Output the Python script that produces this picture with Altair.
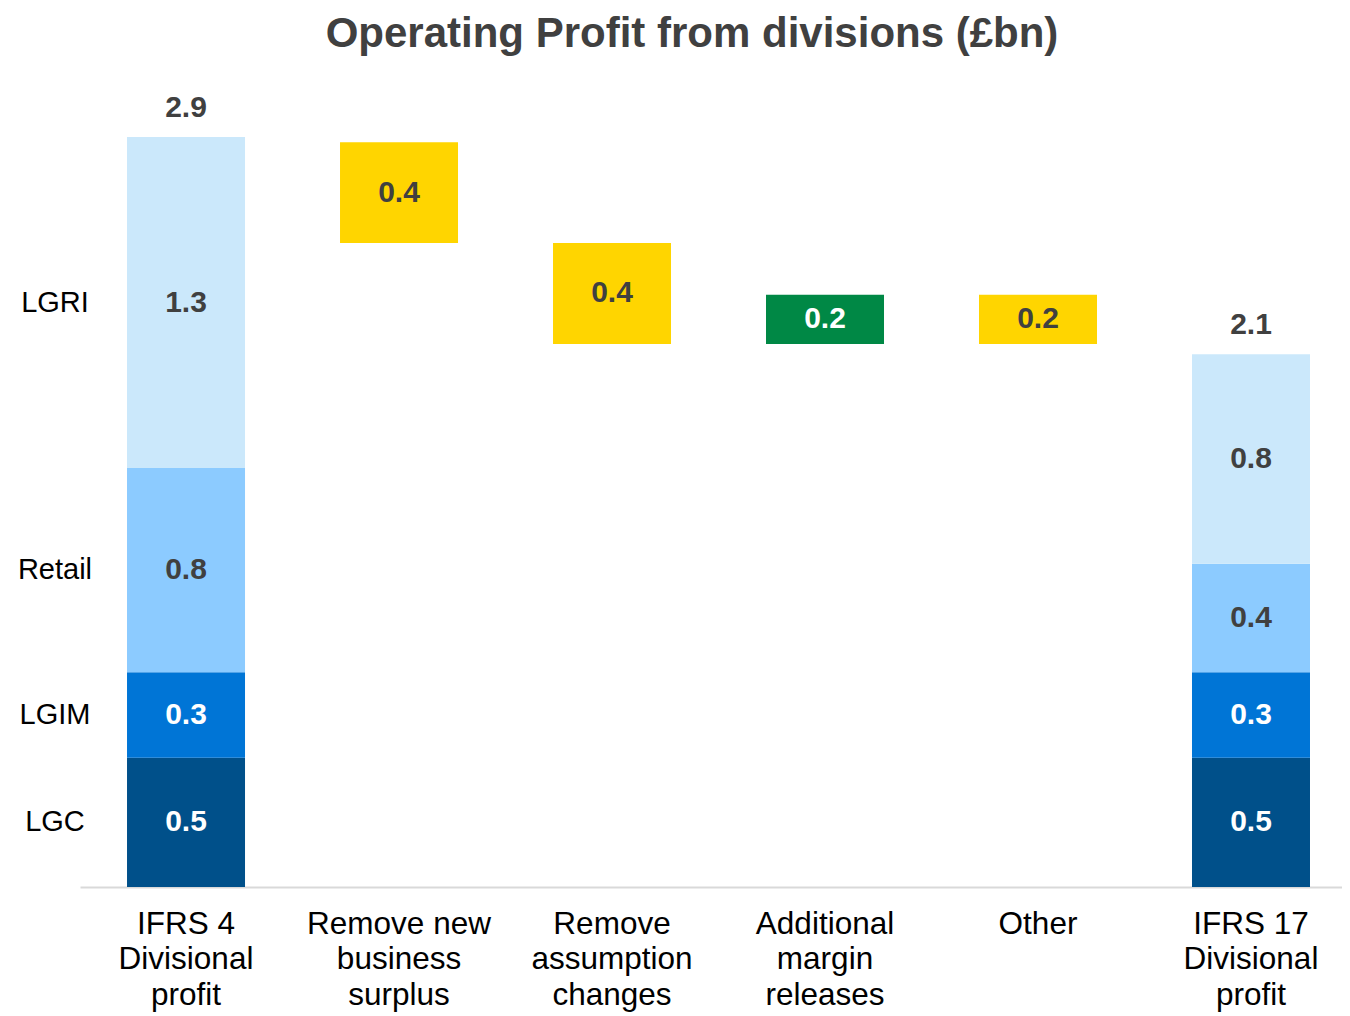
import altair as alt
import pandas as pd

categories = ["IFRS 4|Divisional|profit", "Remove new|business|surplus", "Remove|assumption|changes",
              "Additional|margin|releases", "Other", "IFRS 17|Divisional|profit"]
divisions = ["LGC", "LGIM", "Retail", "LGRI"]
div_colors = ["#00508a", "#0075d6", "#8ccbff", "#cbe8fb"]
div_text_colors = ["#ffffff", "#ffffff", "#404040", "#404040"]
ifrs4_values = [0.50, 0.33, 0.79, 1.28]
ifrs17_values = [0.50, 0.33, 0.42, 0.81]
step_start = [2.88, 2.49, 2.10, 2.29]
step_end = [2.49, 2.10, 2.29, 2.10]
step_labels = ["0.4", "0.4", "0.2", "0.2"]
step_colors = ["#ffd500", "#ffd500", "#008845", "#ffd500"]
step_text_colors = ["#404040", "#404040", "#ffffff", "#404040"]

rows = []
for cat, vals in [(categories[0], ifrs4_values), (categories[5], ifrs17_values)]:
    base = 0.0
    for d, v, c, tc in zip(divisions, vals, div_colors, div_text_colors):
        rows.append(dict(cat=cat, lo=base, hi=base + v, color=c, tcolor=tc,
                         label=f"{v:.1f}", mid=base + v / 2, div=d))
        base += v
for i in range(4):
    lo, hi = min(step_start[i], step_end[i]), max(step_start[i], step_end[i])
    rows.append(dict(cat=categories[i + 1], lo=lo, hi=hi, color=step_colors[i],
                     tcolor=step_text_colors[i], label=step_labels[i], mid=(lo + hi) / 2, div=""))
df = pd.DataFrame(rows)

totals = pd.DataFrame({
    "cat": [categories[0], categories[5]],
    "top": [sum(ifrs4_values), sum(ifrs17_values)],
})
totals["label"] = totals["top"].map(lambda v: f"{v:.1f}")

left = df[(df["cat"] == categories[0])][["div", "mid"]]

FONT = "Liberation Sans"
H = 807
ymax = H / (750 / 2.9)

x = alt.X("cat:N", sort=categories, title=None,
          scale=alt.Scale(paddingInner=0.446, paddingOuter=0.1855, align=0.595),
          axis=alt.Axis(labelExpr="split(datum.label, '|')", labelAngle=0,
                        labelFont=FONT, labelFontSize=31.5, labelColor="#000000",
                        labelLineHeight=35.5, labelPadding=21, labelBaseline="top",
                        ticks=False, domainColor="#d9d9d9", domainWidth=2,
                        labelLimit=300))
yscale = alt.Scale(domain=[0, ymax], nice=False, zero=True)
y = alt.Y("lo:Q", scale=yscale, axis=None)

bars = alt.Chart(df).mark_bar(size=118).encode(
    x=x, y=y, y2="hi:Q", color=alt.Color("color:N", scale=None)
)
seg_text = alt.Chart(df).mark_text(font=FONT, fontSize=30, fontWeight="bold", baseline="middle").encode(
    x=alt.X("cat:N", sort=categories),
    y=alt.Y("mid:Q", scale=yscale),
    text="label:N",
    color=alt.Color("tcolor:N", scale=None),
)
tot_text = alt.Chart(totals).mark_text(font=FONT, fontSize=30, fontWeight="bold", baseline="middle",
                                       dy=-29, color="#404040").encode(
    x=alt.X("cat:N", sort=categories),
    y=alt.Y("top:Q", scale=yscale),
    text="label:N",
)
left_text = alt.Chart(left).mark_text(font=FONT, fontSize=29, baseline="middle", align="center",
                                      color="#000000").encode(
    x=alt.value(-25),
    y=alt.Y("mid:Q", scale=yscale),
    text="div:N",
)

chart = alt.layer(bars, seg_text, tot_text, left_text).properties(
    width=1262, height=H,
    title=alt.Title("Operating Profit from divisions (£bn)", font=FONT, fontSize=42,
                    fontWeight="bold", color="#404040", anchor="middle", frame="group",
                    dx=-19, offset=24),
    autosize=alt.AutoSizeParams(type="none"),
    padding={"left": 72, "top": 72, "right": 0, "bottom": 128},
).configure_view(stroke=None)

chart.save("out.html", embed_options={"renderer": "svg", "actions": False})
